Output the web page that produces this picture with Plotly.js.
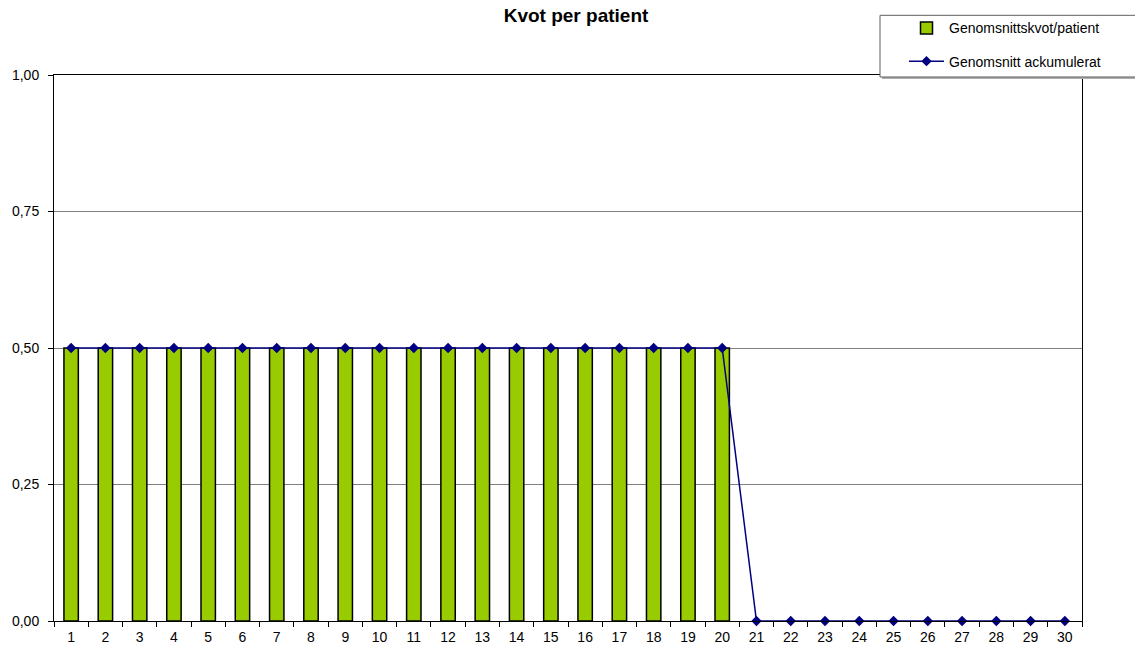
<!DOCTYPE html>
<html>
<head>
<meta charset="utf-8">
<script src="https://cdn.plot.ly/plotly-3.0.1.min.js"></script>
<style>
  html, body { margin: 0; padding: 0; background: #ffffff; }
  #chart { width: 1135px; height: 649px; }
</style>
</head>
<body>
<div id="chart"></div>
<script>
// Patient numbers on the x axis
const patients = ["1","2","3","4","5","6","7","8","9","10","11","12","13","14","15",
                  "16","17","18","19","20","21","22","23","24","25","26","27","28","29","30"];

// Average ratio per patient (only the first 20 patients have a value)
const avgRatio = [0.5,0.5,0.5,0.5,0.5,0.5,0.5,0.5,0.5,0.5,0.5,0.5,0.5,0.5,0.5,
                  0.5,0.5,0.5,0.5,0.5,null,null,null,null,null,null,null,null,null,null];

// Accumulated average
const accumulated = [0.5,0.5,0.5,0.5,0.5,0.5,0.5,0.5,0.5,0.5,0.5,0.5,0.5,0.5,0.5,
                     0.5,0.5,0.5,0.5,0.5,0,0,0,0,0,0,0,0,0,0];

const yTicks = [0, 0.25, 0.5, 0.75, 1];

// Plot area in pixels, used to place the legend frame in paper units
const W = 1135, H = 649;
const M = { l: 54, r: 53, t: 72, b: 28 };
const pw = W - M.l - M.r, ph = H - M.t - M.b;
const px = v => (v - M.l) / pw;
const py = v => (H - M.b - v) / ph;

const traces = [
  {
    type: "bar",
    name: "Genomsnittskvot/patient",
    x: patients,
    y: avgRatio,
    marker: { color: "#99CC00", line: { color: "#000000", width: 1.5 } },
    legendgroup: "a",
    hoverinfo: "x+y"
  },
  {
    type: "scatter",
    mode: "lines+markers",
    name: "Genomsnitt ackumulerat",
    x: patients,
    y: accumulated,
    line: { color: "#000080", width: 1.5 },
    marker: { symbol: "diamond", size: 8, color: "#000080" },
    legendgroup: "b",
    cliponaxis: false
  }
];

const layout = {
  width: W,
  height: H,
  paper_bgcolor: "#ffffff",
  plot_bgcolor: "#ffffff",
  separators: ", ",
  font: { family: "Liberation Sans, Arial, sans-serif", size: 14, color: "#000000" },
  margin: { l: M.l, r: M.r, t: M.t, b: M.b, pad: 0 },
  title: {
    text: "<b>Kvot per patient</b>",
    font: { size: 19, color: "#000000" },
    xref: "container", x: 576 / W, xanchor: "center",
    yref: "container", y: 1 - 15 / H, yanchor: "middle"
  },
  bargap: 0.58,
  showlegend: true,
  legend: {
    x: px(904), xanchor: "left",
    y: py(9), yanchor: "top",
    bgcolor: "rgba(0,0,0,0)",
    borderwidth: 0,
    font: { size: 14, color: "#000000" },
    traceorder: "grouped",
    tracegroupgap: 12,
    itemwidth: 35
  },
  shapes: [
    // legend frame shadow
    { type: "rect", xref: "paper", yref: "paper", layer: "above",
      x0: px(882), x1: px(1145), y0: py(14), y1: py(76),
      fillcolor: "#b0b0b0", line: { width: 0 } },
    // legend frame
    { type: "rect", xref: "paper", yref: "paper", layer: "above",
      x0: px(880), x1: px(1145), y0: py(12), y1: py(74),
      fillcolor: "#ffffff", line: { color: "#606060", width: 1 } }
  ],
  xaxis: {
    type: "category",
    range: [-0.5, 29.5],
    tickson: "boundaries",
    ticks: "outside",
    ticklen: 5,
    tickcolor: "#000000",
    ticklabelstandoff: 3,
    showgrid: false,
    showline: true,
    linecolor: "#000000",
    linewidth: 1,
    mirror: true,
    zeroline: false,
    tickfont: { size: 14 },
    fixedrange: true
  },
  yaxis: {
    range: [0, 1],
    tickvals: yTicks,
    tickformat: ".2f",
    ticks: "outside",
    ticklen: 5,
    tickcolor: "#000000",
    ticklabelstandoff: 6,
    showgrid: true,
    gridcolor: "#808080",
    gridwidth: 1,
    showline: true,
    linecolor: "#000000",
    linewidth: 1,
    mirror: true,
    zeroline: false,
    tickfont: { size: 14 },
    fixedrange: true
  }
};

Plotly.newPlot("chart", traces, layout, { displayModeBar: false, staticPlot: true });
</script>
</body>
</html>
